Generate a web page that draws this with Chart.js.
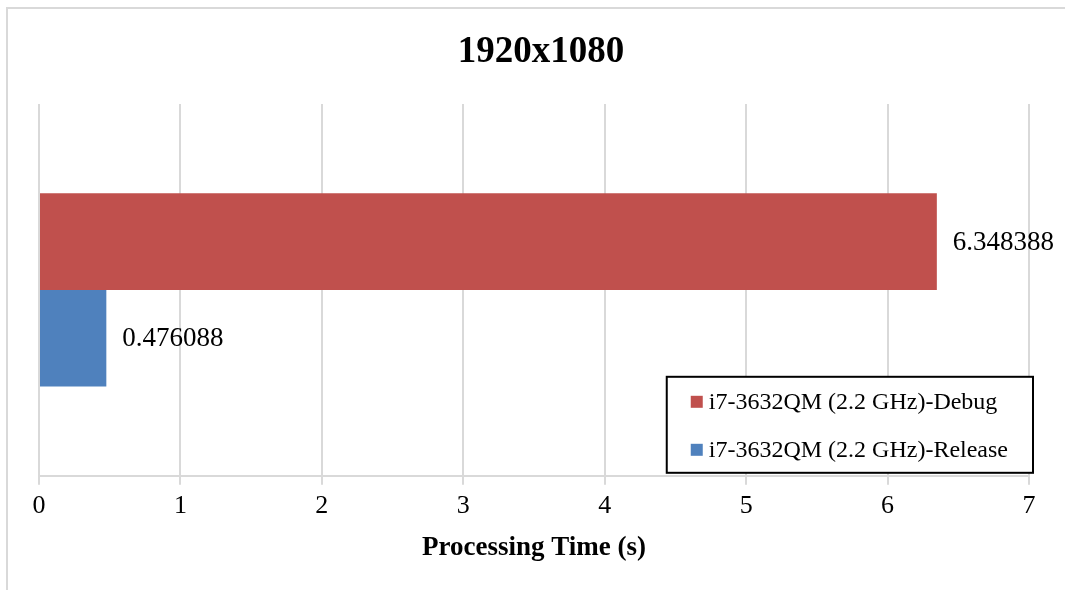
<!DOCTYPE html>
<html>
<head>
<meta charset="utf-8">
<script src="https://cdn.jsdelivr.net/npm/chart.js@4/dist/chart.umd.min.js"></script>
<style>
  html, body { margin: 0; padding: 0; background: #fff; }
  #wrap { width: 1065px; height: 590px; }
</style>
</head>
<body>
<div id="wrap"><canvas id="myChart"></canvas></div>
<script>
// data
const categories = ['1920x1080'];
const seriesNames = ['i7-3632QM (2.2 GHz)-Debug', 'i7-3632QM (2.2 GHz)-Release'];
const debugTimes = [6.348388];
const releaseTimes = [0.476088];
const seriesColors = ['#C0504D', '#4F81BD'];

const serif = "'Liberation Serif', 'Times New Roman', serif";

// light grey frame of the chart (goes off the page right/bottom)
const framePlugin = {
  id: 'frame',
  beforeDraw(chart) {
    const ctx = chart.ctx;
    ctx.save();
    ctx.strokeStyle = '#d9d9d9';
    ctx.lineWidth = 2;
    ctx.strokeRect(7, 8, 2000, 2000);
    ctx.restore();
  }
};

// value labels at the end of each bar
const valueLabels = {
  id: 'valueLabels',
  afterDatasetsDraw(chart) {
    const ctx = chart.ctx;
    ctx.save();
    ctx.font = '27px ' + serif;
    ctx.fillStyle = '#000';
    ctx.textBaseline = 'middle';
    ctx.textAlign = 'left';
    chart.data.datasets.forEach((ds, i) => {
      chart.getDatasetMeta(i).data.forEach((bar, j) => {
        ctx.fillText(ds.data[j].toString(), bar.x + 16, bar.y + 1);
      });
    });
    ctx.restore();
  }
};

// boxed legend in the lower right corner of the plot
const boxLegend = {
  id: 'boxLegend',
  afterDraw(chart) {
    const ctx = chart.ctx;
    const area = chart.chartArea;
    ctx.save();
    ctx.font = '24px ' + serif;
    let maxW = 0;
    chart.data.datasets.forEach(ds => { maxW = Math.max(maxW, ctx.measureText(ds.label).width); });
    const right = area.right + 4;
    const bottom = area.bottom - 3;
    const w = maxW + 42 + 25;
    const h = 96;
    const left = right - w;
    const top = bottom - h;
    ctx.fillStyle = '#fff';
    ctx.fillRect(left, top, w, h);
    ctx.strokeStyle = '#000';
    ctx.lineWidth = 2;
    ctx.strokeRect(left, top, w, h);
    ctx.textBaseline = 'middle';
    chart.data.datasets.forEach((ds, i) => {
      const y = top + 25 + i * 48;
      ctx.fillStyle = ds.backgroundColor;
      ctx.fillRect(left + 24, y - 6, 12, 12);
      ctx.fillStyle = '#000';
      ctx.fillText(ds.label, left + 42, y + 1);
    });
    ctx.restore();
  }
};

new Chart(document.getElementById('myChart'), {
  type: 'bar',
  data: {
    labels: categories,
    datasets: [
      { label: seriesNames[0], data: debugTimes, backgroundColor: seriesColors[0] },
      { label: seriesNames[1], data: releaseTimes, backgroundColor: seriesColors[1] }
    ]
  },
  options: {
    indexAxis: 'y',
    responsive: true,
    maintainAspectRatio: false,
    animation: false,
    datasets: { bar: { categoryPercentage: 0.52, barPercentage: 1.0 } },
    layout: { padding: { left: 39, right: 22, top: 0, bottom: 28 } },
    plugins: {
      legend: { display: false },
      tooltip: { enabled: false },
      title: {
        display: true,
        text: categories[0],
        color: '#000',
        font: { family: serif, size: 37, weight: 'bold' },
        padding: { top: 30, bottom: 29.6 }
      }
    },
    scales: {
      x: {
        min: 0,
        max: 7,
        ticks: { stepSize: 1, color: '#000', font: { family: serif, size: 26 }, padding: 6 },
        grid: { color: '#d9d9d9', lineWidth: 2, tickLength: 9 },
        border: { color: '#d9d9d9', width: 2 },
        title: {
          display: true,
          text: 'Processing Time (s)',
          color: '#000',
          font: { family: serif, size: 27, weight: 'bold', lineHeight: 1 },
          padding: { top: 7, bottom: 0 }
        }
      },
      y: {
        position: 'right',
        ticks: { display: false },
        grid: { display: false },
        border: { display: false },
        afterFit(scale) { scale.width = 14; }
      }
    }
  },
  plugins: [framePlugin, valueLabels, boxLegend]
});
</script>
</body>
</html>
